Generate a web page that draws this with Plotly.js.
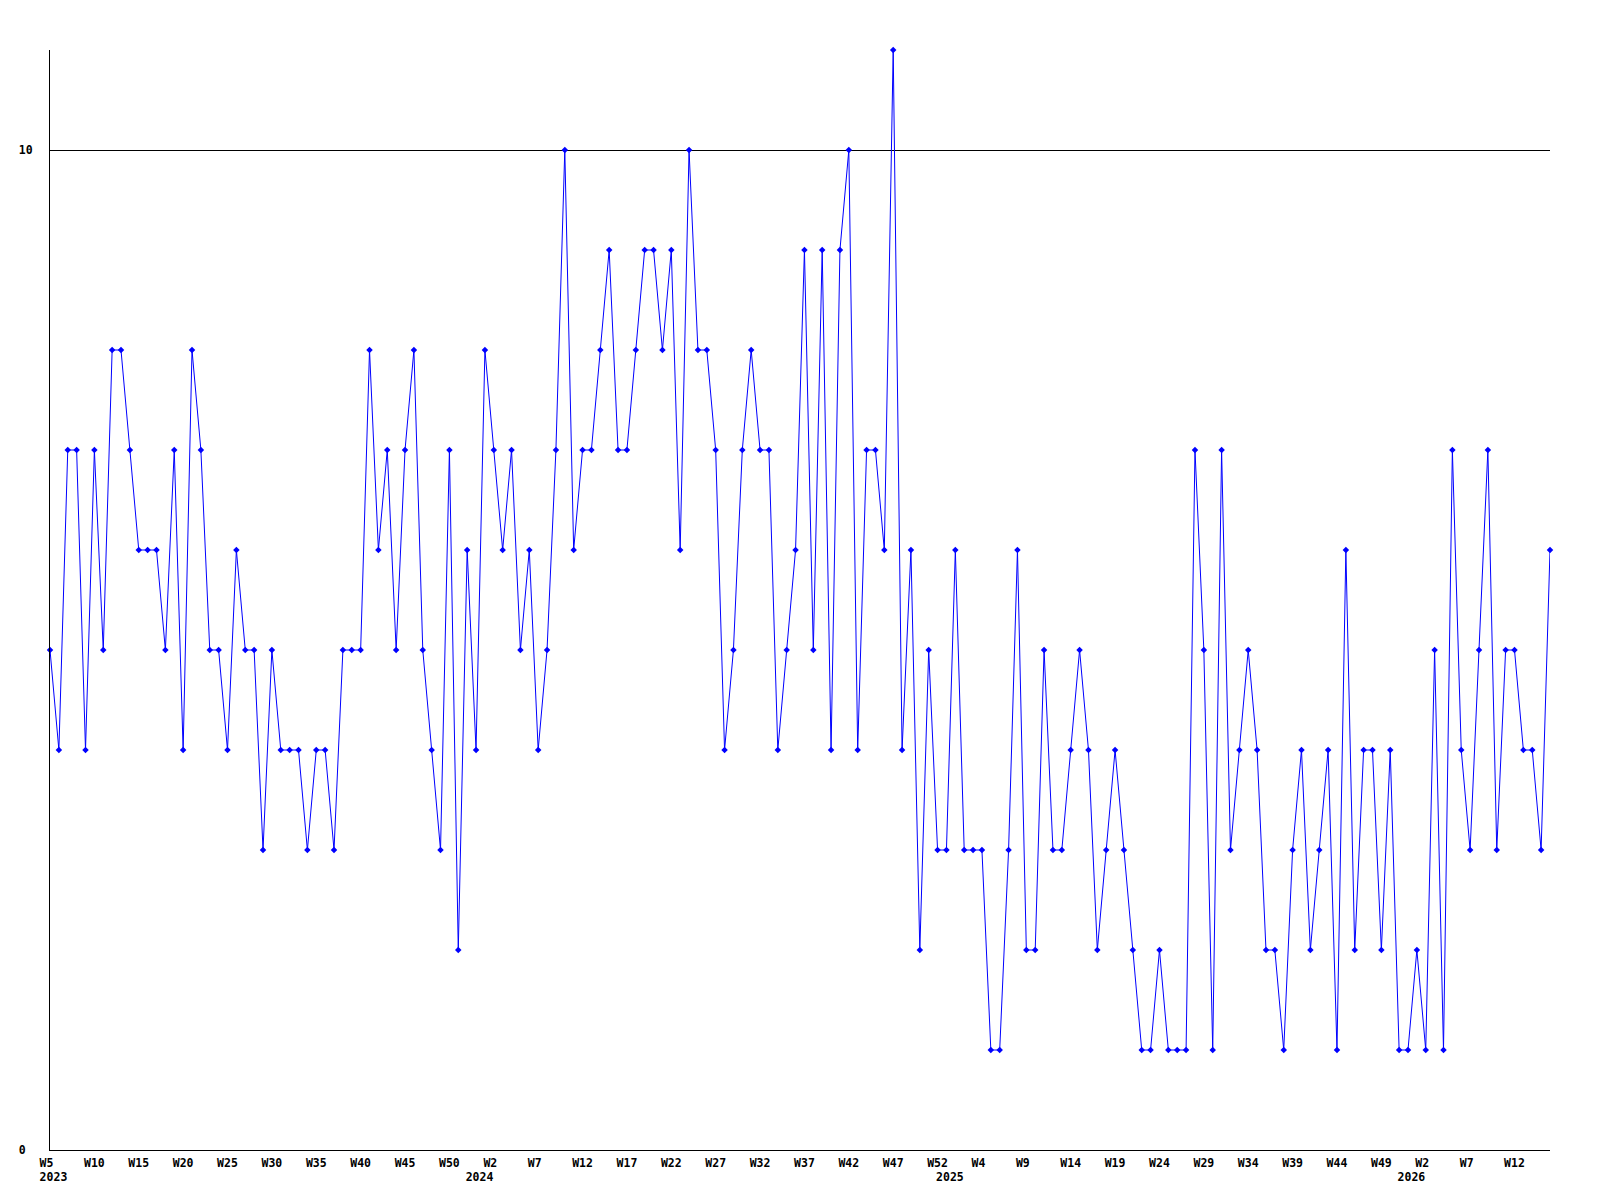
<!DOCTYPE html>
<html>
<head>
<meta charset="utf-8">
<script src="https://cdn.plot.ly/plotly-3.0.1.min.js"></script>
<style>
  html, body { margin: 0; padding: 0; background: #ffffff; }
  #chart { width: 1600px; height: 1200px; }
</style>
</head>
<body>
<div id="chart"></div>
<script>
// Weekly values, 2023 W5 onwards (one value per week)
const values = [
  5,4,7,7,4,7,5,8,8,7,
  6,6,6,5,7,4,8,7,5,5,
  4,6,5,5,3,5,4,4,4,3,
  4,4,3,5,5,5,8,6,7,5,
  7,8,5,4,3,7,2,6,4,8,
  7,6,7,5,6,4,5,7,10,6,
  7,7,8,9,7,7,8,9,9,8,
  9,6,10,8,8,7,4,5,7,8,
  7,7,4,5,6,9,5,9,4,9,
  10,4,7,7,6,11,4,6,2,5,
  3,3,6,3,3,3,1,1,3,6,
  2,2,5,3,3,4,5,4,2,3,
  4,3,2,1,1,2,1,1,1,7,
  5,1,7,3,4,5,4,2,2,1,
  3,4,2,3,4,1,6,2,4,4,
  2,4,1,1,2,1,5,1,7,4,
  3,5,7,3,5,5,4,4,3,6
];

// Week tick labels, one every 5th week
const weekTickLabels = [
  "W5","W10","W15","W20","W25","W30","W35","W40","W45","W50",
  "W2","W7","W12","W17","W22","W27","W32","W37","W42","W47",
  "W52","W4","W9","W14","W19","W24","W29","W34","W39","W44",
  "W49","W2","W7","W12"
];
const weekTickStep = 5;

// Year labels and the week index where each year starts
const yearLabels = ["2023","2024","2025","2026"];
const yearStartIndex = [0, 48, 101, 153];

// Y axis ticks
const yTickValues = [0, 10];
const yTickLabels = ["0", "10"];

const xIdx = values.map((_, i) => i);
const weekTickVals = weekTickLabels.map((_, k) => k * weekTickStep);
// monospace padding so every label starts at the same offset from its tick
const NBSP = "\u00a0";
const weekTickText = weekTickLabels.map(t => t.length < 3 ? t + NBSP : t);
const yearTickText = yearLabels.map(t => NBSP + t);
const yTickText = yTickLabels.map(t => t.length < 2 ? t + NBSP : t);

const tickFont = { family: "DejaVu Sans Mono, Liberation Mono, monospace", size: 11.5, color: "#000000", weight: "bold" };

const traces = [
  {
    x: xIdx,
    y: values,
    type: "scatter",
    mode: "lines+markers",
    line: { color: "#0000ff", width: 1 },
    marker: { color: "#0000ff", size: 5, symbol: "diamond" },
    cliponaxis: false,
    showlegend: false,
    hoverinfo: "x+y"
  },
  {
    x: yearStartIndex,
    y: yearStartIndex.map(() => null),
    xaxis: "x2",
    type: "scatter",
    mode: "markers",
    showlegend: false,
    hoverinfo: "skip"
  }
];

const xRange = [0, values.length - 1];

const layout = {
  width: 1600,
  height: 1200,
  margin: { l: 50, r: 50, t: 50, b: 50, pad: 0 },
  paper_bgcolor: "#ffffff",
  plot_bgcolor: "#ffffff",
  showlegend: false,
  xaxis: {
    range: xRange,
    showline: true,
    linecolor: "#000000",
    linewidth: 1,
    showgrid: false,
    zeroline: false,
    ticks: "",
    tickmode: "array",
    tickvals: weekTickVals,
    ticktext: weekTickText,
    tickangle: 0,
    tickfont: tickFont,
    ticklabelstandoff: 2,
    fixedrange: true
  },
  xaxis2: {
    overlaying: "x",
    anchor: "y",
    side: "bottom",
    range: xRange,
    showline: false,
    showgrid: false,
    zeroline: false,
    ticks: "",
    tickmode: "array",
    tickvals: yearStartIndex,
    ticktext: yearTickText,
    tickangle: 0,
    tickfont: tickFont,
    ticklabelstandoff: 18,
    fixedrange: true
  },
  yaxis: {
    range: [0, 11],
    showline: true,
    linecolor: "#000000",
    linewidth: 1,
    showgrid: true,
    gridcolor: "#000000",
    gridwidth: 1,
    zeroline: false,
    ticks: "",
    tickmode: "array",
    tickvals: yTickValues,
    ticktext: yTickText,
    tickfont: tickFont,
    ticklabelstandoff: 14,
    fixedrange: true
  }
};

Plotly.newPlot("chart", traces, layout, { staticPlot: true, displayModeBar: false });
</script>
</body>
</html>
